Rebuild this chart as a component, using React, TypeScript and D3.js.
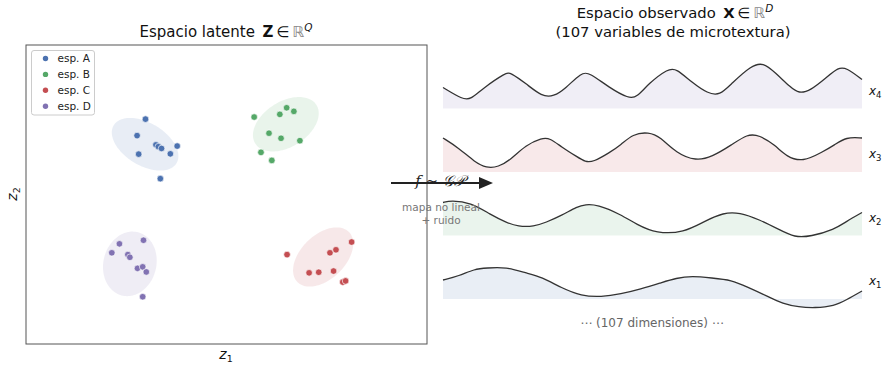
import * as d3 from "d3";

const W = 882;
const H = 369;

// latent space: one cluster per species
const SPECIES = ["esp. A", "esp. B", "esp. C", "esp. D"];
const COLORS = ["#4c72b0", "#55a868", "#c44e52", "#8172b2"];

const latentA = [
  [2.98, 7.52], [2.77, 6.97], [2.81, 6.35], [3.24, 6.66], [3.3, 6.6],
  [3.38, 6.54], [3.6, 6.36], [3.77, 6.62], [3.35, 5.53],
];
const latentB = [
  [5.69, 7.59], [6.33, 7.68], [6.5, 7.9], [6.68, 7.78], [6.06, 7.05],
  [6.36, 6.88], [6.83, 6.8], [5.86, 6.41], [6.13, 6.14],
];
const latentC = [
  [6.51, 2.99], [7.58, 3.05], [7.73, 3.15], [8.12, 3.41], [7.06, 2.38],
  [7.3, 2.4], [7.67, 2.44], [7.9, 2.07], [7.97, 2.11],
];
const latentD = [
  [2.33, 3.35], [2.93, 3.47], [2.14, 3.05], [2.54, 2.99], [2.59, 2.9],
  [2.78, 2.53], [2.91, 2.58], [3.0, 2.41], [2.91, 1.58],
];
const LATENT = [latentA, latentB, latentC, latentD];

// cluster ellipses: centre, half width, half height, x/y coupling
const ELLIPSES = [
  { cx: 2.97, cy: 6.68, w: 0.83, h: 0.88, corr: -0.45 },
  { cx: 6.48, cy: 7.35, w: 0.82, h: 0.91, corr: 0.4 },
  { cx: 7.41, cy: 2.91, w: 0.75, h: 0.99, corr: 0.45 },
  { cx: 2.59, cy: 2.68, w: 0.67, h: 1.08, corr: 0.1 },
];

// observed space: [dimension, value]
const obsX1 = [
  [0, 1.9], [4, 2.3], [8, 3.0], [11, 3.1], [16, 3.2], [21, 2.6], [25, 2.2],
  [30, 1.1], [35, 0.3], [40, 0.2], [45, 0.5], [50, 1.0], [55, 1.6], [59, 2.1],
  [63, 2.3], [68, 2.1], [73, 1.9], [77, 1.2], [82, 0.3], [86, -0.5], [90, -0.8],
  [94, -0.9], [99, -0.7], [102, -0.1], [106, 0.8],
];
const obsX2 = [
  [0, 3.3], [2, 3.5], [7, 3.3], [12, 2.1], [16, 1.3], [19, 0.9], [23, 0.9],
  [26, 1.3], [30, 2.0], [34, 2.9], [36, 3.1], [39, 3.1], [45, 2.1], [49, 1.1],
  [54, 0.2], [61, 0.3], [66, 1.4], [71, 2.3], [75, 2.3], [80, 1.6], [85, 0.6],
  [89, -0.2], [93, -0.1], [99, 0.6], [102, 1.4], [106, 2.3],
];
const obsX3 = [
  [0, 3.4], [4, 2.4], [8, 1.0], [11, 0.4], [14, 0.5], [17, 1.2], [21, 2.7],
  [25, 3.4], [27, 3.4], [30, 2.5], [34, 1.5], [36, 1.0], [38, 1.0], [42, 1.9],
  [45, 2.7], [48, 3.8], [52, 4.0], [55, 3.5], [59, 1.9], [64, 1.1], [68, 1.5],
  [73, 2.7], [77, 3.8], [80, 3.7], [84, 2.7], [87, 1.5], [91, 1.0], [96, 2.0],
  [99, 2.7], [102, 3.5], [106, 3.4],
];
const obsX4 = [
  [0, 2.1], [5, 0.9], [7, 0.9], [10, 2.0], [16, 3.6], [17, 3.6], [21, 2.5],
  [25, 1.2], [28, 1.2], [31, 2.0], [35, 3.6], [37, 3.6], [42, 2.1], [47, 1.0],
  [49, 1.1], [52, 2.5], [57, 4.0], [59, 4.0], [63, 2.6], [67, 1.5], [70, 1.3],
  [73, 2.5], [78, 4.3], [81, 4.6], [84, 3.6], [88, 2.1], [90, 1.5], [93, 1.8],
  [97, 3.1], [100, 4.1], [102, 4.1], [106, 2.9],
];
const TRACKS = [
  { name: "1", data: obsX1, color: COLORS[0] },
  { name: "2", data: obsX2, color: COLORS[1] },
  { name: "3", data: obsX3, color: COLORS[2] },
  { name: "4", data: obsX4, color: COLORS[3] },
];
const N_DIMS = 107;

const FONT = "DejaVu Sans, sans-serif";

export default function App() {
  // left panel scales
  const left = { x0: 26, x1: 427, y0: 45, y1: 344 };
  const zx = d3.scaleLinear().domain([0, 10]).range([left.x0, left.x1]);
  const zy = d3.scaleLinear().domain([0, 10]).range([left.y1, left.y0]);

  const ellipsePath = (e) => {
    const pts = d3.range(0, 2 * Math.PI + 0.001, Math.PI / 60).map((p) => [
      e.cx + e.w * Math.cos(p),
      e.cy + e.h * (e.corr * Math.cos(p) + Math.sqrt(1 - e.corr * e.corr) * Math.sin(p)),
    ]);
    return d3.line().x((d) => zx(d[0])).y((d) => zy(d[1]))(pts) + "Z";
  };

  // right panel scales
  const tx = d3.scaleLinear().domain([0, N_DIMS - 1]).range([443, 862]);
  const spacing = 6.35;
  const ty = d3.scaleLinear().domain([0, 3 * spacing]).range([299, 108.5]);

  return (
    <svg
      width={W}
      height={H}
      style={{ position: "absolute", left: 0, top: 0, background: "#fff" }}
      fontFamily={FONT}
    >
      {/* left panel */}
      <text x={226} y={37} fontSize={15} textAnchor="middle" fill="#111">
        Espacio latente{"\u2002"}
        <tspan fontWeight="bold">Z</tspan>
        <tspan>{"\u2009\u2208\u2009"}</tspan>
        <tspan fill="#888">ℝ</tspan>
        <tspan fontSize={10.5} fontStyle="italic" dy={-6}>Q</tspan>
      </text>

      {ELLIPSES.map((e, i) => (
        <path key={"e" + i} d={ellipsePath(e)} fill={COLORS[i]} fillOpacity={0.13} stroke="none" />
      ))}
      {LATENT.map((pts, i) =>
        pts.map((p, j) => (
          <circle
            key={`p${i}-${j}`}
            cx={zx(p[0])}
            cy={zy(p[1])}
            r={3.3}
            fill={COLORS[i]}
            stroke="#fff"
            strokeOpacity={0.8}
            strokeWidth={0.8}
          />
        ))
      )}

      <rect
        x={left.x0}
        y={left.y0}
        width={left.x1 - left.x0}
        height={left.y1 - left.y0}
        fill="none"
        stroke="#555"
        strokeWidth={1}
      />

      {/* legend */}
      <rect x={31.5} y={50.5} width={63} height={64.5} rx={2.5} fill="#fff" fillOpacity={0.85} stroke="#ccc" strokeWidth={1} />
      {SPECIES.map((s, i) => (
        <g key={s} transform={`translate(0,${58.5 + i * 15.9})`}>
          <circle cx={45.5} cy={0} r={2.7} fill={COLORS[i]} />
          <text x={57.5} y={3.8} fontSize={10.5} fill="#222">{s}</text>
        </g>
      ))}

      <text x={226} y={359} fontSize={14} textAnchor="middle" fill="#111" fontStyle="italic">
        z<tspan fontSize={9.5} fontStyle="normal" dy={3}>1</tspan>
      </text>
      <text transform="translate(17,194) rotate(-90)" fontSize={14} textAnchor="middle" fill="#111" fontStyle="italic">
        z<tspan fontSize={9.5} fontStyle="normal" dy={3}>2</tspan>
      </text>

      {/* right panel */}
      <text x={675} y={18} fontSize={14.8} textAnchor="middle" fill="#111">
        Espacio observado{"\u2002"}
        <tspan fontWeight="bold">X</tspan>
        <tspan>{"\u2009\u2208\u2009"}</tspan>
        <tspan fill="#888">ℝ</tspan>
        <tspan fontSize={10.5} fontStyle="italic" dy={-6}>D</tspan>
      </text>
      <text x={673} y={37} fontSize={14.8} textAnchor="middle" fill="#111">
        (107 variables de microtextura)
      </text>

      {TRACKS.map((t, k) => {
        const off = k * spacing;
        const area = d3
          .area()
          .x((d) => tx(d[0]))
          .y0(ty(off))
          .y1((d) => ty(off + d[1]))
          .curve(d3.curveBasis);
        const line = d3
          .line()
          .x((d) => tx(d[0]))
          .y((d) => ty(off + d[1]))
          .curve(d3.curveBasis);
        return (
          <g key={t.name}>
            <path d={area(t.data)} fill={t.color} fillOpacity={0.12} stroke="none" />
            <path d={line(t.data)} fill="none" stroke="#333" strokeWidth={1.3} />
            <text x={869} y={ty(off + 1.8) + 4} fontSize={12} fill="#111" fontStyle="italic">
              x<tspan fontSize={8.5} fontStyle="normal" dy={3}>{t.name}</tspan>
            </text>
          </g>
        );
      })}

      <text x={652} y={327} fontSize={12} textAnchor="middle" fill="#666">
        ⋯ (107 dimensiones) ⋯
      </text>

      {/* mapping arrow */}
      <line x1={391} y1={183} x2={481} y2={183} stroke="#222" strokeWidth={2} />
      <path d="M479,177L493,183L479,189Z" fill="#222" />
      <text x={440} y={186} fontSize={15} textAnchor="middle" fill="#222" fontFamily="DejaVu Serif, serif" fontStyle="italic">
        f ∼ 𝒢𝒫
      </text>
      <text x={441} y={211} fontSize={10.5} textAnchor="middle" fill="#777">mapa no lineal</text>
      <text x={441} y={224} fontSize={10.5} textAnchor="middle" fill="#777">+ ruido</text>
    </svg>
  );
}
